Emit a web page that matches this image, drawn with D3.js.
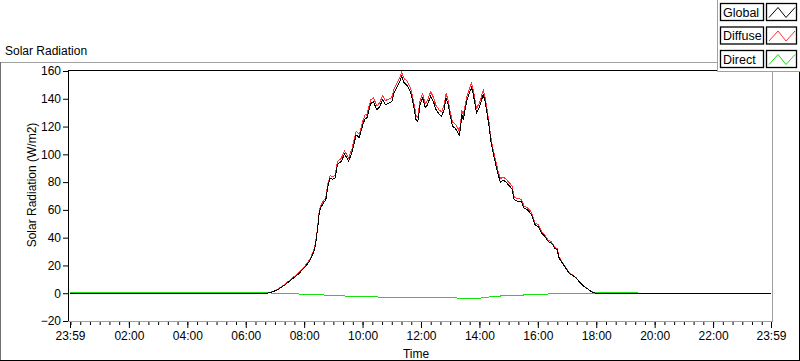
<!DOCTYPE html>
<html>
<head>
<meta charset="utf-8">
<script src="https://cdn.jsdelivr.net/npm/d3@7"></script>
<style>
  body { margin: 0; background: #fff; }
  svg text { font-family: "Liberation Sans", Arial, sans-serif; font-size: 12px; fill: #000; }
</style>
</head>
<body>
<div id="chart"></div>
<script>
// data, time in decimal hours (0 = midnight, -1/60 = 23:59 of the day before)
const hours = [-0.0167, 6.74, 6.9, 7.1, 7.31, 7.58, 7.81, 8.04, 8.21, 8.35, 8.41, 8.47, 8.49, 8.55, 8.66, 8.74, 8.81, 8.89, 8.97, 9.06,
  9.14, 9.27, 9.38, 9.46, 9.52, 9.63, 9.78, 9.89, 10.01, 10.09, 10.14, 10.28, 10.37, 10.49, 10.58, 10.69, 10.77, 10.88, 11.0, 11.08,
  11.17, 11.28, 11.34, 11.42, 11.51, 11.6, 11.68, 11.76, 11.83, 11.89, 11.97, 12.06, 12.14, 12.22, 12.33, 12.42, 12.51, 12.63, 12.71, 12.79,
  12.86, 12.93, 12.99, 13.08, 13.16, 13.24, 13.31, 13.36, 13.39, 13.45, 13.51, 13.58, 13.68, 13.73, 13.79, 13.85, 13.9, 13.99, 14.07, 14.13,
  14.19, 14.25, 14.33, 14.39, 14.47, 14.56, 14.64, 14.72, 14.81, 14.91, 15.04, 15.12, 15.19, 15.33, 15.44, 15.52, 15.67, 15.79, 15.9, 16.01,
  16.13, 16.24, 16.35, 16.47, 16.58, 16.66, 16.73, 16.84, 16.96, 17.07, 17.21, 17.32, 17.44, 17.55, 17.67, 17.78, 17.89, 18.0, 23.983];

const globalVals = [0, 0, 0.8, 2.6, 5.5, 10, 14, 19, 24, 31, 38, 48, 54, 61, 65, 67, 77, 83, 82, 83,
  92.6, 95, 100, 97.5, 95, 101, 114, 112, 121.5, 126, 125.6, 136.5, 138, 132, 134, 139.6, 136, 136.5, 138, 144.4,
  148, 152.8, 156.4, 151.6, 150, 146.8, 142, 133.6, 125, 123.5, 136, 140.8, 133.6, 135.5, 142, 138.3, 132.3, 128.7, 127.5, 132.3,
  140.8, 136, 128.7, 120.3, 119, 116.7, 113.8, 119, 129.2, 125, 132.3, 139.6, 145.6, 148, 143.2, 136, 130, 133.6, 138.8, 143.2,
  138.3, 131, 120.3, 109.5, 101, 92.6, 85.4, 80, 81.5, 80, 77, 75, 67.4, 66.1, 66.1, 61.4, 59.6, 56.5, 49.3, 48.1,
  43.3, 40.9, 37.3, 36.1, 32.5, 31.3, 25.3, 21.7, 18, 14.4, 12.5, 10.8, 7.7, 5.5, 3.6, 1.9, 0.5, 0, 0];

const diffuseVals = [0, 0, 1.0, 2.9, 6.0, 10.6, 14.7, 19.9, 25, 32.1, 39.2, 49.3, 55.3, 62.4, 66.5, 68.6, 78.7, 84.8, 83.8, 85,
  94.7, 97.2, 102.3, 99.8, 97.4, 103.4, 116.5, 114.5, 124, 128.6, 128.2, 139.2, 140.8, 134.8, 136.9, 142.5, 138.9, 139.4, 141, 147.4,
  151, 155.8, 159.2, 154.6, 153, 149.8, 145, 136.6, 128, 126.5, 139, 143.8, 136.6, 138.5, 145, 141.3, 135.3, 131.7, 130.5, 135.3,
  143.8, 139, 131.7, 123.3, 122, 119.7, 116.8, 122, 132.2, 128, 135.3, 142.6, 148.6, 151.2, 146.2, 139, 133, 136.6, 141.8, 146.4,
  141.3, 134, 123.1, 112.2, 103.6, 95.1, 87.8, 82.3, 83.8, 82.2, 79.1, 77, 69.3, 67.9, 67.8, 63, 61.1, 57.9, 50.6, 49.3,
  44.4, 41.9, 38.2, 36.9, 33.2, 32, 25.9, 22.2, 18.4, 14.7, 12.8, 11, 7.9, 5.6, 3.7, 2, 0.6, 0, 0];

const directHours = [-0.0167, 0.5, 1, 1.5, 2, 2.5, 3, 3.5, 4, 4.5, 5, 5.5, 6, 6.5, 6.75, 7.0, 7.3, 7.6, 8.0, 8.3,
  8.6, 9.0, 9.5, 10.0, 10.5, 11.0, 11.5, 12.0, 12.5, 13.0, 13.5, 14.0, 14.3, 14.6, 15.0, 15.5, 16.0, 16.5, 17.0, 17.5,
  18.0, 18.5, 19, 20, 21, 22, 23, 23.983];
const directVals = [0.5, 0.4, 0.6, 0.5, 0.4, 0.6, 0.5, 0.3, 0.5, 0.4, 0.3, 0.4, 0.3, 0.3, 0.3, 0, -0.3, -0.4, -0.7, -0.9,
  -1.2, -1.7, -2.1, -2.4, -2.7, -3.0, -3.2, -3.4, -3.1, -3.4, -3.5, -3.6, -2.8, -2.1, -1.8, -1.3, -0.7, -0.5, -0.4, -0.2,
  0.2, 0.3, 0.2, 0.1, 0.1, 0, 0, 0];

const seriesNames = ["Global", "Diffuse", "Direct"];
const seriesColors = ["#000000", "#ff3333", "#14e014"];

const xTickHours = [-0.0167, 2, 4, 6, 8, 10, 12, 14, 16, 18, 20, 22, 23.983];
const xTickLabels = ["23:59", "02:00", "04:00", "06:00", "08:00", "10:00", "12:00", "14:00", "16:00", "18:00", "20:00", "22:00", "23:59"];
const yTicks = [-20, 0, 20, 40, 60, 80, 100, 120, 140, 160];

const W = 800, H = 361;
const plot = {left: 70, right: 771, top: 71, bottom: 321};

const svg = d3.select("#chart").append("svg")
    .attr("width", W).attr("height", H);

svg.append("rect").attr("width", W).attr("height", H).attr("fill", "#fff");

// outer frame of the graph
svg.append("line").attr("x1", 0).attr("x2", 717).attr("y1", 62.5).attr("y2", 62.5).attr("stroke", "#a0a0a0");
svg.append("line").attr("x1", 0.5).attr("x2", 0.5).attr("y1", 62).attr("y2", 361).attr("stroke", "#707070");
svg.append("line").attr("x1", 0).attr("x2", W).attr("y1", 360.5).attr("y2", 360.5).attr("stroke", "#000");
svg.append("line").attr("x1", 799.5).attr("x2", 799.5).attr("y1", 62).attr("y2", 361).attr("stroke", "#000");

svg.append("text").attr("x", 5).attr("y", 55).text("Solar Radiation");

// scales
const x = d3.scaleLinear().domain([-0.0167, 23.983]).range([plot.left, plot.right]);
const y = d3.scaleLinear().domain([-20, 160]).range([plot.bottom, plot.top]);

// plot box
svg.append("line").attr("x1", 68).attr("x2", 773).attr("y1", 70.5).attr("y2", 70.5).attr("stroke", "#000");
svg.append("line").attr("x1", 68.5).attr("x2", 68.5).attr("y1", 70).attr("y2", 322).attr("stroke", "#000");
svg.append("line").attr("x1", 772.5).attr("x2", 772.5).attr("y1", 71).attr("y2", 322).attr("stroke", "#a0a0a0");
svg.append("line").attr("x1", 68).attr("x2", 773).attr("y1", 321.5).attr("y2", 321.5).attr("stroke", "#a0a0a0");

// y axis
const yAxis = svg.append("g")
    .attr("transform", "translate(68,0)")
    .call(d3.axisLeft(y).tickValues(yTicks).tickSize(5).tickPadding(2));
yAxis.select(".domain").remove();
yAxis.selectAll("text").style("font-size", "12px").style("font-family", "Liberation Sans, Arial, sans-serif");

// x axis: minor ticks every 20 minutes, major ticks with labels
const xMinor = svg.append("g")
    .attr("transform", "translate(0,322)")
    .call(d3.axisBottom(x).tickValues(d3.range(0, 24, 1 / 3)).tickSize(3).tickFormat(""));
xMinor.select(".domain").remove();

const xAxis = svg.append("g")
    .attr("transform", "translate(0,322)")
    .call(d3.axisBottom(x).tickValues(xTickHours).tickSize(6).tickPadding(3)
        .tickFormat((d, i) => xTickLabels[i]));
xAxis.select(".domain").remove();
xAxis.selectAll("text").style("font-size", "12px").style("font-family", "Liberation Sans, Arial, sans-serif");

svg.append("text").attr("x", 416).attr("y", 358).attr("text-anchor", "middle").text("Time");
svg.append("text")
    .attr("transform", "translate(36,185) rotate(-90)")
    .attr("text-anchor", "middle").text("Solar Radiation (W/m2)");

// series
svg.append("clipPath").attr("id", "clip")
  .append("rect").attr("x", 69).attr("y", 71).attr("width", 703).attr("height", 251);

const line = d3.line().x(d => x(d[0])).y(d => y(d[1]));
const plotG = svg.append("g").attr("clip-path", "url(#clip)");

const seriesData = [
  hours.map((h, i) => [h, globalVals[i]]),
  hours.map((h, i) => [h, diffuseVals[i]]),
  directHours.map((h, i) => [h, directVals[i]])
];

// draw Direct, then Diffuse, then Global on top (aliased 1px like the original)
[2, 1, 0].forEach(k => {
  plotG.append("path")
      .datum(seriesData[k])
      .attr("fill", "none")
      .attr("stroke", seriesColors[k])
      .attr("stroke-width", 1)
      .attr("shape-rendering", "crispEdges")
      .attr("d", line);
});

// legend panel
const legend = svg.append("g");
legend.append("rect").attr("x", 717.5).attr("y", -1).attr("width", 90).attr("height", 72.5)
    .attr("fill", "#fff").attr("stroke", "#a0a0a0");

const items = legend.selectAll(".item").data(seriesNames).enter().append("g")
    .attr("transform", (d, i) => `translate(0,${3.5 + i * 23.5})`);

items.append("rect").attr("x", 720.5).attr("y", 0).attr("width", 43).attr("height", 17)
    .attr("fill", "#fff").attr("stroke", "#000").attr("stroke-width", 1.3);
items.append("text").attr("x", 723).attr("y", 13).style("font-size", "12.5px").text(d => d);
items.append("rect").attr("x", 766.5).attr("y", 0).attr("width", 30).attr("height", 17)
    .attr("fill", "#fff").attr("stroke", "#000").attr("stroke-width", 1.3);
items.append("polyline")
    .attr("points", "769,14 778,4 786,14 795,4")
    .attr("fill", "none")
    .attr("stroke", (d, i) => seriesColors[i]);
</script>
</body>
</html>
